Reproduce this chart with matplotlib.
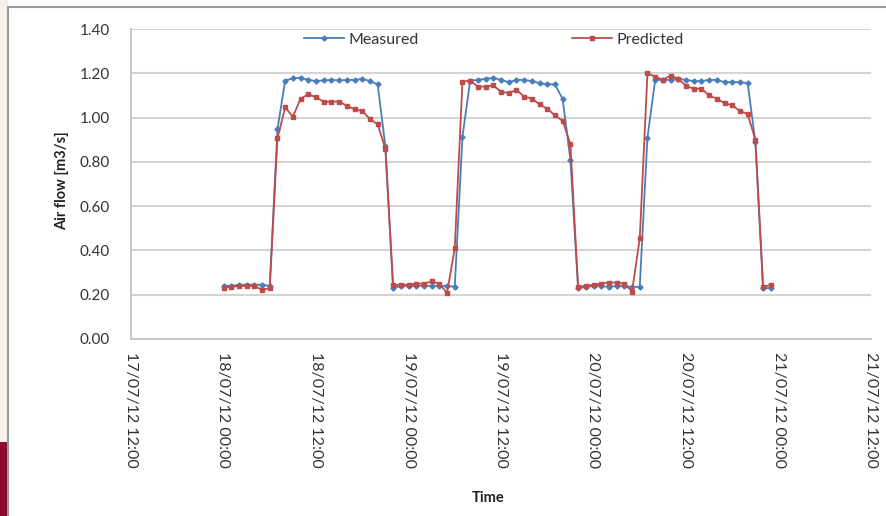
import matplotlib
matplotlib.use("Agg")
import matplotlib.pyplot as plt
import matplotlib.dates as mdates
import pandas as pd
from matplotlib.patches import Rectangle

start_time = "2012-07-18 00:00"
n_hours = 72

measured = [
    0.24, 0.24, 0.245, 0.245, 0.245, 0.245, 0.24,
    0.947,
    1.167, 1.177, 1.18, 1.17, 1.165, 1.168, 1.17, 1.168, 1.17, 1.17, 1.175, 1.165, 1.15,
    0.87,
    0.23, 0.24, 0.24, 0.24, 0.24, 0.24, 0.24, 0.24, 0.236,
    0.914,
    1.167, 1.17, 1.175, 1.18, 1.17, 1.16, 1.17, 1.17, 1.165, 1.155, 1.15, 1.15,
    1.083,
    0.81,
    0.23, 0.235, 0.24, 0.24, 0.235, 0.24, 0.24, 0.235, 0.236,
    0.91,
    1.17, 1.17, 1.17, 1.175, 1.17, 1.165, 1.165, 1.17, 1.17, 1.16, 1.16, 1.16, 1.155,
    0.89,
    0.23, 0.23,
]

predicted = [
    0.232, 0.235, 0.24, 0.24, 0.24, 0.222, 0.23,
    0.906,
    1.046, 1.004, 1.085, 1.105, 1.092, 1.072, 1.072, 1.072, 1.054, 1.037, 1.03, 0.993, 0.97,
    0.86,
    0.244, 0.245, 0.245, 0.25, 0.25, 0.26, 0.25, 0.208,
    0.41,
    1.162, 1.167, 1.14, 1.14, 1.145, 1.117, 1.11, 1.125, 1.095, 1.085, 1.06, 1.04, 1.01, 0.985,
    0.881,
    0.236, 0.24, 0.245, 0.25, 0.255, 0.255, 0.25, 0.214,
    0.455,
    1.2, 1.185, 1.17, 1.19, 1.175, 1.143, 1.13, 1.13, 1.1, 1.085, 1.065, 1.055, 1.03, 1.015,
    0.9,
    0.236, 0.244,
]

x_start = "2012-07-17 12:00"
x_end = "2012-07-21 12:00"
y_ticks = [0.0, 0.2, 0.4, 0.6, 0.8, 1.0, 1.2, 1.4]

times = pd.date_range(start_time, periods=n_hours, freq="h")

plt.rcParams['font.family'] = ['Lato', 'DejaVu Sans']

W, H = 887, 516
fig = plt.figure(figsize=(W / 100, H / 100), dpi=100)
fig.patch.set_facecolor('white')

# slide background strip at the left and chart border
fig.add_artist(Rectangle((0, 0), 8 / W, 1, transform=fig.transFigure,
                         facecolor='#f6f1ec', edgecolor='none', zorder=0))
fig.add_artist(Rectangle((0, 0), 8 / W, (516 - 442) / H, transform=fig.transFigure,
                         facecolor='#8c0a2e', edgecolor='none', zorder=0))
fig.add_artist(Rectangle((8 / W, -0.05), 1.0, (516 - 7) / H + 0.05, transform=fig.transFigure,
                         facecolor='white', edgecolor='#9a9a9a', lw=1.5, zorder=0.5))

left, right, top, bottom = 131, 871, 29, 339
ax = fig.add_axes([left / W, (H - bottom) / H, (right - left) / W, (bottom - top) / H])
ax.set_zorder(2)
ax.set_facecolor('none')

ax.plot(times, measured, color='#4a7ebb', lw=1.3, marker='D', markersize=2.6,
        label='Measured', zorder=3)
ax.plot(times, predicted, color='#be4b48', lw=1.3, marker='s', markersize=3.3,
        label='Predicted', zorder=4)

ax.set_xlim(pd.Timestamp(x_start), pd.Timestamp(x_end))
ax.set_ylim(0, 1.4)
ax.set_yticks(y_ticks)
ax.set_yticklabels([f"{v:.2f}" for v in y_ticks])
ax.xaxis.set_major_locator(mdates.HourLocator(byhour=[0, 12]))
ax.xaxis.set_major_formatter(mdates.DateFormatter('%d/%m/%y %H:%M'))
for lab in ax.get_xticklabels():
    lab.set_rotation(-90)
    lab.set_ha('center')
    lab.set_va('top')

ax.grid(axis='y', color='#d4d4d4', lw=1.5)
ax.set_axisbelow(True)
for s in ['top', 'right']:
    ax.spines[s].set_visible(False)
for s in ['left', 'bottom']:
    ax.spines[s].set_color('#bfbfbf')
    ax.spines[s].set_linewidth(1.2)
ax.tick_params(axis='y', length=0, pad=15, labelsize=11, labelcolor='#333333')
ax.tick_params(axis='x', length=0, pad=9, labelsize=11.5, labelcolor='#333333')

t1 = fig.text(62 / W, 1 - 181 / H, 'Air flow [m3/s]', rotation=90, ha='center', va='center',
              fontsize=10.5, fontweight='bold', color='#222222')
t2 = fig.text(488 / W, 1 - 498 / H, 'Time', ha='center', va='center',
              fontsize=10.5, fontweight='bold', color='#222222')
t1.set_zorder(3)
t2.set_zorder(3)

leg = ax.legend(ncol=2, loc='center', bbox_to_anchor=(494 / W, 1 - 40 / H),
                bbox_transform=fig.transFigure, frameon=False, fontsize=11.5,
                handlelength=2.5, handletextpad=0.3, columnspacing=9.6)
for t in leg.get_texts():
    t.set_color('#333333')

fig.savefig('out.png', dpi=100)
